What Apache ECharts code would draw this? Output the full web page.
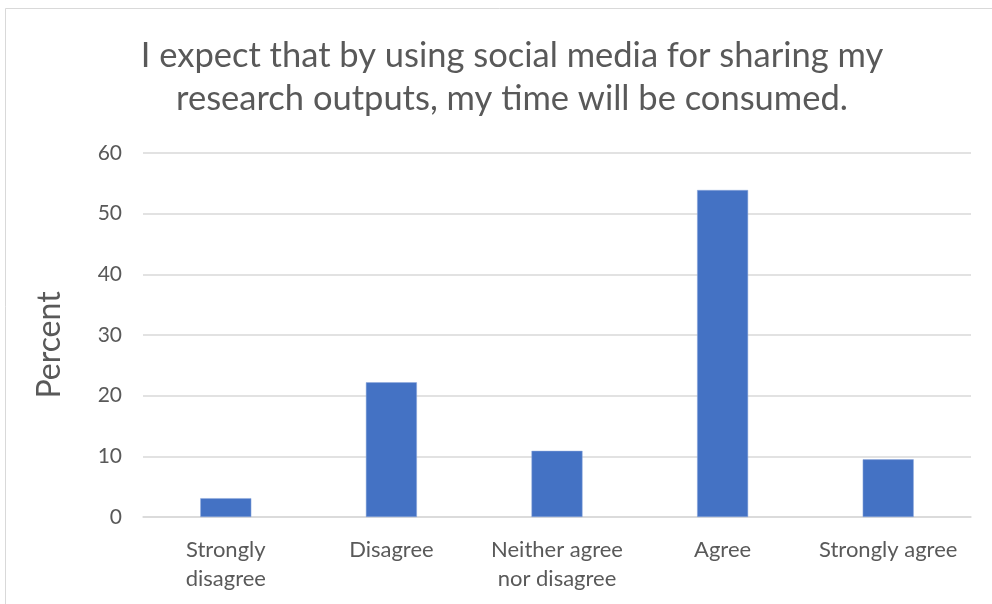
<!DOCTYPE html>
<html>
<head>
<meta charset="utf-8">
<script src="https://cdn.jsdelivr.net/npm/echarts@6/dist/echarts.min.js"></script>
<style>
html,body{margin:0;padding:0;background:#fff;}
#c{width:992px;height:604px;}
</style>
</head>
<body>
<div id="c"></div>
<script>
const titleLines = ['I expect that by using social media for sharing my', 'research outputs, my time will be consumed.'];
const categories = ['Strongly\ndisagree', 'Disagree', 'Neither agree\nnor disagree', 'Agree', 'Strongly agree'];
const percentValues = [3.1, 22.2, 10.9, 53.9, 9.5];
const yTicks = {min: 0, max: 60, interval: 10};
const yAxisName = 'Percent';

const chart = echarts.init(document.getElementById('c'), null, {renderer: 'canvas'});
const font = 'Lato, "Open Sans", sans-serif';
chart.setOption({
  animation: false,
  backgroundColor: '#fff',
  title: {
    text: titleLines.join('\n'),
    left: 507,
    top: 29,
    textAlign: 'center',
    textStyle: {fontFamily: font, fontSize: 34.5, fontWeight: 'normal', color: '#595959', lineHeight: 43}
  },
  graphic: [{
    type: 'rect', shape: {x: 5.5, y: 8.5, width: 1000, height: 700},
    style: {fill: 'none', stroke: '#d9d9d9', lineWidth: 1}, silent: true, z: -1
  }, {
    type: 'text', x: 50, y: 345, rotation: Math.PI / 2,
    style: {text: yAxisName, fontFamily: font, fontSize: 32, fill: '#595959', align: 'center', verticalAlign: 'middle'},
    silent: true
  }],
  grid: {left: 143, right: 21, top: 153, bottom: 87},
  xAxis: {
    type: 'category',
    data: categories,
    axisLine: {show: true, lineStyle: {color: '#d9d9d9', width: 1.5}},
    axisTick: {show: false},
    axisLabel: {fontFamily: font, fontSize: 22, color: '#595959', margin: 18, lineHeight: 29, interval: 0},
  },
  yAxis: {
    type: 'value',
    min: yTicks.min, max: yTicks.max, interval: yTicks.interval,
    axisLine: {show: false},
    axisTick: {show: false},
    splitLine: {lineStyle: {color: '#d9d9d9', width: 1.5}},
    axisLabel: {fontFamily: font, fontSize: 21, color: '#595959', margin: 21}
  },
  series: [{
    type: 'bar',
    data: percentValues,
    barWidth: 51,
    itemStyle: {color: '#4472C4', borderColor: '#8fa9dc', borderWidth: 0.5}
  }]
});
</script>
</body>
</html>
